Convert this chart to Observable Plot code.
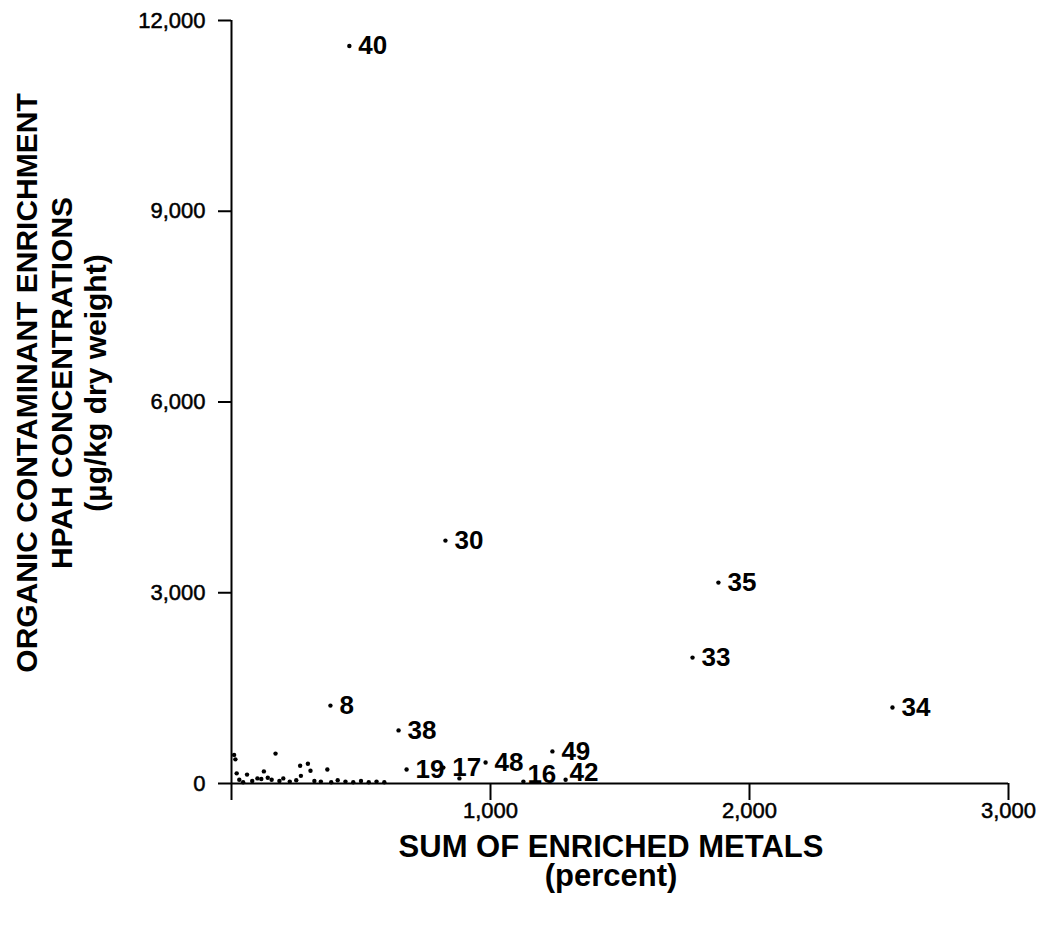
<!DOCTYPE html>
<html>
<head>
<meta charset="utf-8">
<script src="https://cdn.jsdelivr.net/npm/d3@7"></script>
<script src="https://cdn.jsdelivr.net/npm/@observablehq/plot@0.6"></script>
<style>
  html, body { margin: 0; padding: 0; background: #fff; }
  #chart svg { display: block; font-family: "Liberation Sans", Arial, sans-serif; }
</style>
</head>
<body>
<div id="chart"></div>
<script>
// Labeled stations
const stationIds = ["40", "30", "35", "33", "34", "8", "38", "19", "17", "48", "49", "16", "42"];
const stationMetals = [455, 826, 1880, 1780, 2552, 382, 645, 676, 818, 981, 1239, 1127, 1290];
const stationHpah = [11600, 3820, 3160, 1980, 1195, 1225, 835, 220, 250, 330, 505, 30, 60];

// Unlabeled stations (cluster near origin)
const otherMetals = [10, 15, 20, 30, 45, 60, 80, 100, 115, 125, 140, 155, 170, 185, 200, 225, 250, 265, 268, 295, 305, 320, 345, 370, 385, 410, 440, 470, 500, 530, 560, 590, 880];
const otherHpah = [450, 380, 160, 60, 20, 140, 40, 80, 70, 190, 90, 60, 470, 40, 80, 30, 50, 280, 120, 310, 200, 40, 30, 220, 20, 50, 30, 20, 40, 20, 30, 20, 80];

// Axis ticks
const xTicks = [0, 1000, 2000, 3000];
const yTicks = [0, 3000, 6000, 9000, 12000];

const xTitle = "SUM OF ENRICHED METALS\n(percent)";
const yTitle = "ORGANIC CONTAMINANT ENRICHMENT\nHPAH CONCENTRATIONS\n(µg/kg dry weight)";

const stations = stationIds.map((id, i) => ({id, x: stationMetals[i], y: stationHpah[i]}));
const others = otherMetals.map((x, i) => ({x, y: otherHpah[i]}));
const fmt = d3.format(",");

const chart = Plot.plot({
  width: 1039,
  height: 934,
  marginLeft: 231,
  marginRight: 31,
  marginTop: 20,
  marginBottom: 151,
  style: {fontFamily: "'Liberation Sans', Arial, sans-serif", color: "#000", background: "#fff"},
  x: {domain: [0, 3000]},
  y: {domain: [0, 12000]},
  marks: [
    Plot.axisX({ticks: xTicks, tickSize: 17, tickPadding: 2, tickFormat: d => d === 0 ? "" : fmt(d),
      fontSize: 22, label: null, strokeWidth: 2, textStroke: "#000", textStrokeWidth: 0.5}),
    Plot.axisY({ticks: yTicks, tickSize: 13, tickPadding: 13, tickFormat: fmt,
      fontSize: 22, label: null, strokeWidth: 2, textStroke: "#000", textStrokeWidth: 0.5}),
    Plot.ruleY([0], {strokeWidth: 2}),
    Plot.ruleX([0], {strokeWidth: 2}),
    Plot.dot(others, {x: "x", y: "y", r: 2.2, fill: "#000", stroke: null}),
    Plot.dot(stations, {x: "x", y: "y", r: 2.2, fill: "#000", stroke: null}),
    Plot.text(stations.filter(d => d.y >= 100), {x: "x", y: "y", text: "id", textAnchor: "start", dx: 9,
      fontSize: 26, fontWeight: "bold", fill: "#000"}),
    Plot.text(stations.filter(d => d.y < 100), {x: "x", y: "y", text: "id", textAnchor: "start", dx: 4, dy: -7,
      fontSize: 26, fontWeight: "bold", fill: "#000"}),
    Plot.text([xTitle], {frameAnchor: "bottom", text: d => d, lineAnchor: "top", dy: 53, dx: -9,
      fontSize: 31, fontWeight: "bold", lineHeight: 0.94, fill: "#000"}),
    Plot.text([yTitle], {frameAnchor: "left", text: d => d, rotate: -90, textAnchor: "middle", lineAnchor: "middle",
      dx: -171, dy: -19, fontSize: 30, fontWeight: "bold", lineHeight: 1.15, fill: "#000"})
  ]
});
document.getElementById("chart").append(chart);
</script>
</body>
</html>
